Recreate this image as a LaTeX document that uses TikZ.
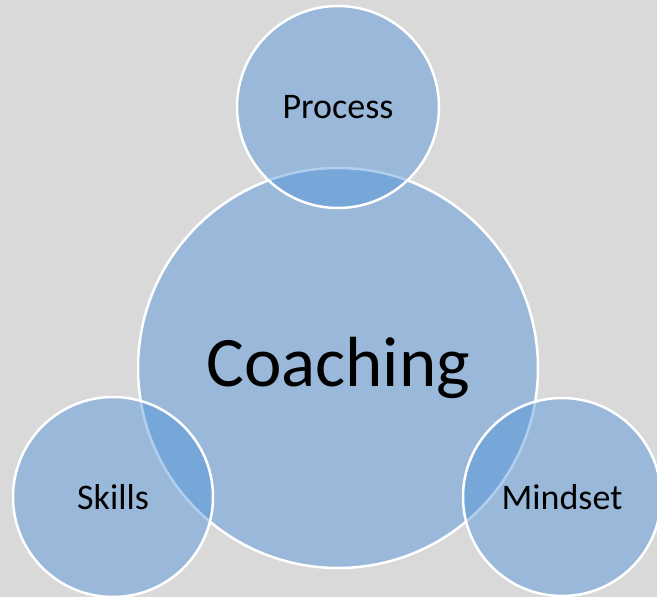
\documentclass[tikz,border=0pt]{standalone}
\usepackage{fontspec}
\setmainfont{Carlito}
\definecolor{bgray}{RGB}{217,217,217}
\definecolor{cblue}{RGB}{74,143,217}
\begin{document}
\begin{tikzpicture}[x=1pt, y=-1pt,
		bubble/.style={circle, draw=white, line width=2.5pt, fill=cblue, fill opacity=0.435, text opacity=1, inner sep=0pt}]
		\fill[bgray] (0,0) rectangle (657,597);
		\useasboundingbox (0,0) rectangle (657,597);
		\clip (0,0) rectangle (657,597);
		\node[bubble, minimum size=400pt, font=\fontsize{71}{80}\selectfont] (coach) at (338,368) {};
		\node[bubble, minimum size=202pt] (proc) at (338,107) {};
		\node[bubble, minimum size=200pt] (skill) at (113,497) {};
		\node[bubble, minimum size=198pt] (mind) at (562,497) {};
		% labels on top of the overlapping circles
		\node[font=\fontsize{71}{80}\selectfont] at (coach) {Coaching};
		\node[font=\fontsize{36}{40}\selectfont] at (proc) {Process};
		\node[font=\fontsize{36}{40}\selectfont] at (skill) {Skills};
		\node[font=\fontsize{36}{40}\selectfont] at (mind) {Mindset};
	\end{tikzpicture}
\end{document}
